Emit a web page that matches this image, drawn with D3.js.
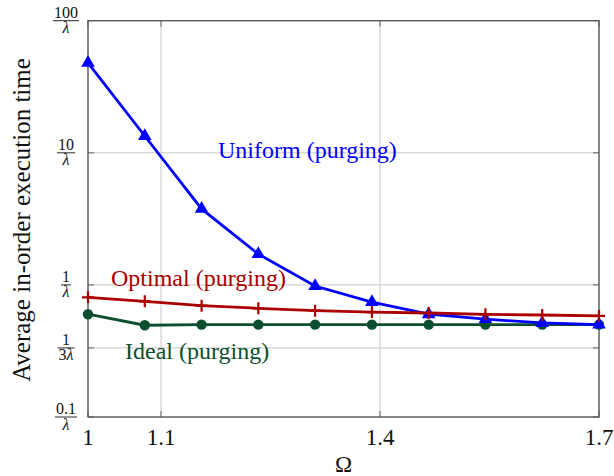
<!DOCTYPE html>
<html><head><meta charset="utf-8">
<script src="https://cdn.jsdelivr.net/npm/d3@7"></script>
<style>
body{margin:0;background:#fff;}
</style></head>
<body><svg id="c" width="614" height="476" font-family="'Liberation Serif', 'Times New Roman', Times, 'DejaVu Serif', serif"></svg>
<script>
const omega = [1, 1.0778, 1.1556, 1.2333, 1.3111, 1.3889, 1.4667, 1.5444, 1.6222, 1.7];
const uniform = [47.9, 13.4, 3.76, 1.71, 0.98, 0.74, 0.6, 0.55, 0.515, 0.5];
const optimal = [0.805, 0.751, 0.696, 0.665, 0.638, 0.623, 0.613, 0.599, 0.592, 0.582];
const ideal = [0.6, 0.495, 0.5, 0.5, 0.5, 0.5, 0.5, 0.5, 0.5, 0.5];
const xTicks = [1, 1.1, 1.4, 1.7];
const xTickLabels = ["1", "1.1", "1.4", "1.7"];
const yTicks = [0.1, 1/3, 1, 10, 100];
const yTickNum = ["0.1", "1", "1", "10", "100"];
const yTickDen = ["", "3", "", "", ""];
const seriesNames = ["Ideal (purging)", "Uniform (purging)", "Optimal (purging)"];

const FONT = "'Liberation Serif', 'Times New Roman', Times, 'DejaVu Serif', serif";
const svg = d3.select("#c");
const L = 88, R = 599, T = 20.7, B = 417;
const x = d3.scaleLinear().domain([1, 1.7]).range([L, R]);
const y = d3.scaleLog().domain([0.1, 100]).range([B, T]);

// grid
const grid = svg.append("g").attr("stroke", "#c8c8c8").attr("stroke-width", 1);
xTicks.forEach(t => grid.append("line").attr("x1", x(t)).attr("x2", x(t)).attr("y1", T).attr("y2", B));
yTicks.forEach(t => grid.append("line").attr("x1", L).attr("x2", R).attr("y1", y(t)).attr("y2", y(t)));

// ticks (inside, both sides)
const tk = svg.append("g").attr("stroke", "#666").attr("stroke-width", 1);
xTicks.forEach(t => {
  tk.append("line").attr("x1", x(t)).attr("x2", x(t)).attr("y1", B).attr("y2", B - 6);
  tk.append("line").attr("x1", x(t)).attr("x2", x(t)).attr("y1", T).attr("y2", T + 6);
});
yTicks.forEach(t => {
  tk.append("line").attr("x1", L).attr("x2", L + 6).attr("y1", y(t)).attr("y2", y(t));
  tk.append("line").attr("x1", R).attr("x2", R - 6).attr("y1", y(t)).attr("y2", y(t));
});

// frame
svg.append("rect").attr("x", L).attr("y", T).attr("width", R - L).attr("height", B - T)
  .attr("fill", "none").attr("stroke", "#555").attr("stroke-width", 1.3);

function txt(sel) { return sel.append("text").attr("font-family", FONT); }

// x tick labels
xTicks.forEach((t, i) => {
  txt(svg).attr("x", x(t)).attr("y", 445).attr("text-anchor", "middle")
    .attr("font-size", 23).attr("fill", "#111").text(xTickLabels[i]);
});
// y tick labels as fractions
yTicks.forEach((t, i) => {
  const yy = y(t);
  const g = svg.append("g");
  const cx = 66;
  const num = txt(g).attr("x", cx).attr("y", yy - 3).attr("text-anchor", "middle")
    .attr("font-size", 16).attr("fill", "#111").text(yTickNum[i]);
  const den = txt(g).attr("x", cx).attr("y", yy + 12.5).attr("text-anchor", "middle")
    .attr("font-size", 16).attr("fill", "#111");
  if (yTickDen[i]) den.append("tspan").text(yTickDen[i]);
  den.append("tspan").attr("font-style", "italic").text("λ");
  const w = Math.max(num.node().getBBox().width, den.node().getBBox().width) + 2;
  g.append("line").attr("x1", cx - w / 2).attr("x2", cx + w / 2).attr("y1", yy).attr("y2", yy)
    .attr("stroke", "#111").attr("stroke-width", 0.9);
});

// axis labels
txt(svg).attr("x", 343.5).attr("y", 472).attr("text-anchor", "middle")
  .attr("font-size", 23).attr("fill", "#111").text("Ω");
txt(svg).attr("transform", "translate(30,220) rotate(-90)").attr("text-anchor", "middle")
  .attr("font-size", 25).attr("fill", "#111").text("Average in-order execution time");

const line = d3.line().x(d => x(d[0])).y(d => y(d[1]));
const cGreen = "#0b4f2e", cBlue = "#0000ff", cRed = "#aa0000";

// Ideal
const gi = svg.append("g");
gi.append("path").datum(omega.map((o, i) => [o, ideal[i]])).attr("d", line)
  .attr("fill", "none").attr("stroke", cGreen).attr("stroke-width", 2.8);
omega.forEach((o, i) => gi.append("circle").attr("cx", x(o)).attr("cy", y(ideal[i])).attr("r", 5.2).attr("fill", cGreen));

// Uniform
const gu = svg.append("g");
gu.append("path").datum(omega.map((o, i) => [o, uniform[i]])).attr("d", line)
  .attr("fill", "none").attr("stroke", cBlue).attr("stroke-width", 2.8);
const tri = d3.symbol().type(d3.symbolTriangle).size(80);
omega.forEach((o, i) => gu.append("path").attr("d", tri()).attr("transform", `translate(${x(o)},${y(uniform[i])})`).attr("fill", cBlue));

// Optimal
const go = svg.append("g");
go.append("path").datum(omega.map((o, i) => [o, optimal[i]])).attr("d", line)
  .attr("fill", "none").attr("stroke", cRed).attr("stroke-width", 2.8);
omega.forEach((o, i) => {
  const px = x(o), py = y(optimal[i]);
  go.append("path").attr("d", `M${px - 6},${py}H${px + 6}M${px},${py - 6}V${py + 6}`)
    .attr("stroke", cRed).attr("stroke-width", 2.2);
});

// series labels
txt(svg).attr("x", 218).attr("y", 158).attr("font-size", 24).attr("fill", cBlue).text(seriesNames[1]);
txt(svg).attr("x", 111).attr("y", 286).attr("font-size", 24).attr("fill", cRed).text(seriesNames[2]);
txt(svg).attr("x", 125).attr("y", 359).attr("font-size", 24).attr("fill", cGreen).text(seriesNames[0]);
</script></body></html>
